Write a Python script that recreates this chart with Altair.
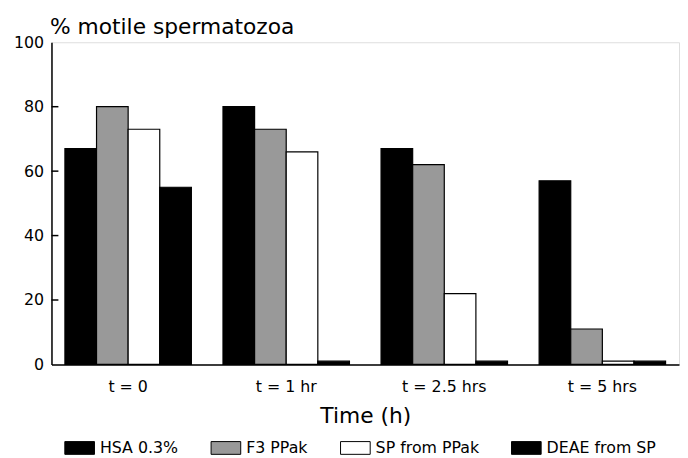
import altair as alt
import pandas as pd

times = ["t = 0", "t = 1 hr", "t = 2.5 hrs", "t = 5 hrs"]
series = ["HSA 0.3%", "F3 PPak", "SP from PPak", "DEAE from SP"]
hsa = [67, 80, 67, 57]
f3 = [80, 73, 62, 11]
sp = [73, 66, 22, 1]
deae = [55, 1, 1, 1]
y_ticks = [0, 20, 40, 60, 80, 100]
inner_ticks = [20, 40, 60, 80]
fills = ["#000000", "#999999", "#ffffff", "#000000"]

rows = []
for name, vals in zip(series, [hsa, f3, sp, deae]):
    for t, v in zip(times, vals):
        rows.append({"time": t, "series": name, "value": v})
df = pd.DataFrame(rows)
ticks_df = pd.DataFrame({"v": inner_ticks})

FONT = "DejaVu Sans"
rect_path = "M-1,-0.43L1,-0.43L1,0.43L-1,0.43Z"

bars = alt.Chart(df).mark_bar(stroke="black", strokeWidth=1.2).encode(
    x=alt.X(
        "time:N", sort=times,
        scale=alt.Scale(paddingInner=0.2, paddingOuter=0.085),
        axis=alt.Axis(
            title="Time (h)", labelAngle=0, ticks=False, tickSize=0,
            labelPadding=27, labelBaseline="alphabetic", labelFontSize=16,
            titleFontSize=22, titleFontWeight="normal", titleY=59,
            titleBaseline="alphabetic", domainColor="black", domainWidth=1.5,
            labelColor="black", titleColor="black", labelFont=FONT, titleFont=FONT,
        ),
    ),
    xOffset=alt.XOffset("series:N", sort=series,
                        scale=alt.Scale(paddingInner=0, paddingOuter=0)),
    y=alt.Y(
        "value:Q",
        scale=alt.Scale(domain=[0, 100], nice=False),
        axis=alt.Axis(
            values=y_ticks, title="% motile spermatozoa", titleAngle=0,
            titleX=-2, titleY=-9, titleAlign="left", titleBaseline="alphabetic",
            titleFontSize=22, titleFontWeight="normal", tickSize=0,
            labelPadding=8, grid=False, labelFontSize=16, domainColor="black",
            domainWidth=1.5, labelColor="black", titleColor="black",
            labelFont=FONT, titleFont=FONT,
        ),
    ),
    fill=alt.Fill(
        "series:N", sort=series,
        scale=alt.Scale(domain=series, range=fills),
        legend=alt.Legend(
            orient="none", legendX=13, legendY=395, direction="horizontal",
            title=None, symbolType=rect_path, symbolSize=900,
            symbolStrokeColor="black", symbolStrokeWidth=1,
            labelFontSize=16, labelFont=FONT, labelColor="black",
            labelOffset=5, columnPadding=30, symbolOpacity=1,
        ),
    ),
)

tick_marks = alt.Chart(ticks_df).mark_rule(color="black", strokeWidth=1.5).encode(
    y=alt.Y("v:Q"),
    x=alt.value(0),
    x2=alt.value(7),
)

chart = alt.layer(bars, tick_marks).properties(
    width=635, height=326,
    autosize=alt.AutoSizeParams(type="none"),
    padding={"left": 44, "top": 32, "right": 1, "bottom": 92},
).configure_view(stroke="black", strokeWidth=1.5).configure(font=FONT)

chart.save("out.html", embed_options={"renderer": "svg", "actions": False})
